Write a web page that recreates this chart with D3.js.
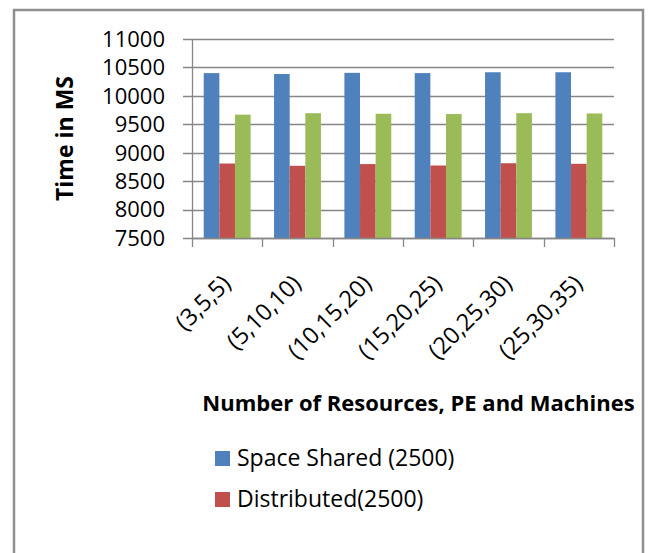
<!DOCTYPE html>
<html>
<head>
<meta charset="utf-8">
<script src="https://cdn.jsdelivr.net/npm/d3@7"></script>
<style>
  html, body { margin: 0; padding: 0; background: #fff; }
  svg { display: block; font-family: "Open Sans", Lato, sans-serif; }
</style>
</head>
<body>
<svg id="chart" width="648" height="553"></svg>
<script>
// Configurations (resources, PE, machines)
const categories = ["(3,5,5)", "(5,10,10)", "(10,15,20)", "(15,20,25)", "(20,25,30)", "(25,30,35)"];

// Execution time in ms for each scheduling policy
const spaceShared = [10400, 10385, 10405, 10400, 10415, 10415];
const distributed = [8810, 8770, 8800, 8775, 8815, 8805];
const timeShared  = [9670, 9695, 9685, 9680, 9695, 9690];

const seriesNames = ["Space Shared (2500)", "Distributed(2500)", "Time Shared (2500)"];
const seriesColors = ["#4F81BD", "#C0504D", "#9BBB59"];
const seriesValues = [spaceShared, distributed, timeShared];

const yTicks = [7500, 8000, 8500, 9000, 9500, 10000, 10500, 11000];

const svg = d3.select("#chart");

// Outer chart frame
svg.append("rect")
  .attr("x", 14).attr("y", 10)
  .attr("width", 629).attr("height", 600)
  .attr("fill", "none")
  .attr("stroke", "#8f8f8f")
  .attr("stroke-width", 2.5);

const plot = { left: 192, right: 614, top: 39, bottom: 238 };

const x0 = d3.scaleBand()
  .domain(categories)
  .range([plot.left, plot.right])
  .paddingInner(0)
  .paddingOuter(0);

// Bars take 3 of 4.5 bar-widths per group (gap width 150%)
const groupPad = (x0.bandwidth() / 4.5) * 0.75;
const x1 = d3.scaleBand()
  .domain(d3.range(seriesNames.length))
  .range([groupPad, x0.bandwidth() - groupPad])
  .padding(0);

const y = d3.scaleLinear()
  .domain([7500, 11000])
  .range([plot.bottom, plot.top]);

// Horizontal gridlines with outward tick marks
svg.append("g")
  .selectAll("line")
  .data(yTicks)
  .join("line")
  .attr("x1", plot.left - 9)
  .attr("x2", plot.right)
  .attr("y1", d => Math.round(y(d)) + 0.5)
  .attr("y2", d => Math.round(y(d)) + 0.5)
  .attr("stroke", "#868686")
  .attr("stroke-width", 1.3);

// Y tick labels
svg.append("g")
  .selectAll("text")
  .data(yTicks)
  .join("text")
  .attr("x", 165)
  .attr("y", d => y(d))
  .attr("dy", "0.36em")
  .attr("text-anchor", "end")
  .attr("font-size", 22)
  .attr("fill", "#000")
  .text(d => d);

// Bars
const groups = svg.append("g")
  .selectAll("g")
  .data(categories)
  .join("g")
  .attr("transform", d => `translate(${x0(d)},0)`);

groups.selectAll("rect")
  .data((d, i) => seriesValues.map((vals, s) => ({ s, v: vals[i] })))
  .join("rect")
  .attr("x", d => x1(d.s))
  .attr("width", x1.bandwidth())
  .attr("y", d => y(d.v))
  .attr("height", d => y(7500) - y(d.v))
  .attr("fill", d => seriesColors[d.s]);

// Y axis line
svg.append("line")
  .attr("x1", plot.left + 0.5).attr("x2", plot.left + 0.5)
  .attr("y1", plot.top).attr("y2", plot.bottom + 9)
  .attr("stroke", "#868686").attr("stroke-width", 1.3);

// X axis line and category separators
svg.append("line")
  .attr("x1", plot.left).attr("x2", plot.right)
  .attr("y1", plot.bottom + 0.5).attr("y2", plot.bottom + 0.5)
  .attr("stroke", "#868686").attr("stroke-width", 1.3);

const boundaries = categories.map(c => x0(c)).concat([plot.right]);
svg.append("g")
  .selectAll("line")
  .data(boundaries.slice(1))
  .join("line")
  .attr("x1", d => Math.round(d) + 0.5)
  .attr("x2", d => Math.round(d) + 0.5)
  .attr("y1", plot.bottom)
  .attr("y2", plot.bottom + 9)
  .attr("stroke", "#868686").attr("stroke-width", 1.3);

// Rotated category labels
svg.append("g")
  .selectAll("text")
  .data(categories)
  .join("text")
  .attr("transform", d => `translate(${x0(d) + x0.bandwidth() / 2 + 5},285) rotate(-45)`)
  .attr("text-anchor", "end")
  .attr("font-size", 23.5)
  .attr("fill", "#000")
  .text(d => d);

// Axis titles
svg.append("text")
  .attr("x", 418.5)
  .attr("y", 411)
  .attr("text-anchor", "middle")
  .attr("font-size", 22)
  .attr("font-weight", "bold")
  .attr("fill", "#000")
  .text("Number of Resources, PE and Machines");

svg.append("text")
  .attr("transform", `translate(73,${(plot.top + plot.bottom) / 2}) rotate(-90)`)
  .attr("text-anchor", "middle")
  .attr("font-size", 23)
  .attr("font-weight", "bold")
  .attr("fill", "#000")
  .text("Time in MS");

// Legend (only the first two entries fit inside the frame)
const legend = svg.append("g")
  .selectAll("g")
  .data(seriesNames.slice(0, 2))
  .join("g")
  .attr("transform", (d, i) => `translate(215,${451 + i * 41})`);

legend.append("rect")
  .attr("width", 15).attr("height", 15)
  .attr("fill", (d, i) => seriesColors[i]);

legend.append("text")
  .attr("x", 22)
  .attr("y", 14.5)
  .attr("font-size", 23)
  .attr("fill", "#000")
  .text(d => d);
</script>
</body>
</html>
